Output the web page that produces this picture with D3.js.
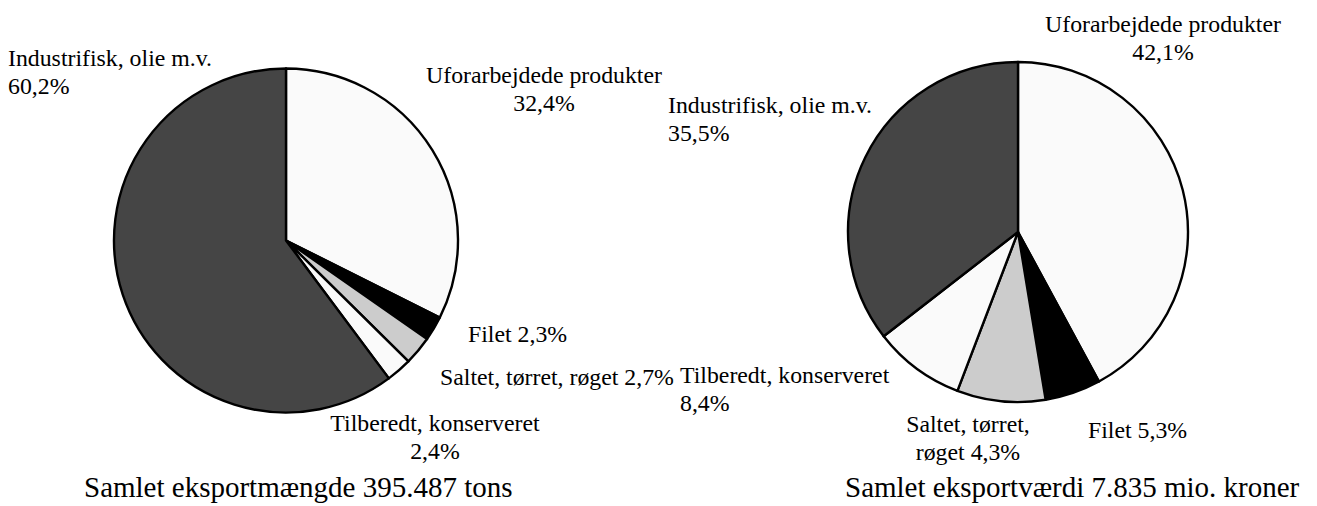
<!DOCTYPE html>
<html>
<head>
<meta charset="utf-8">
<script src="https://cdn.jsdelivr.net/npm/d3@7"></script>
<style>
  body { margin: 0; background: #fff; }
</style>
</head>
<body>
<div id="chart"></div>
<script>
// categories, clockwise from 12 o'clock
var categories = ["Uforarbejdede produkter", "Filet", "Saltet, tørret, røget", "Tilberedt, konserveret", "Industrifisk, olie m.v."]
var colors = ["#fafafa", "#000000", "#cccccc", "#fafafa", "#454545"]

// export quantity (tons share, %)
var volumeValues = [32.4, 2.3, 2.7, 2.4, 60.2]
// export value (share, %), slice sizes as drawn
var valueValues = [42.1, 5.3, 8.4, 8.7, 35.5]

var volumeLabels = [
  ["Uforarbejdede produkter", "32,4%"],
  ["Filet 2,3%"],
  ["Saltet, tørret, røget 2,7%"],
  ["Tilberedt, konserveret", "2,4%"],
  ["Industrifisk, olie m.v.", "60,2%"]
]
var valueLabels = [
  ["Uforarbejdede produkter", "42,1%"],
  ["Filet 5,3%"],
  ["Saltet, tørret,", "røget 4,3%"],
  ["Tilberedt, konserveret", "8,4%"],
  ["Industrifisk, olie m.v.", "35,5%"]
]
var titles = ["Samlet eksportmængde 395.487 tons", "Samlet eksportværdi 7.835 mio. kroner"]

const width = 1317, height = 506
const font = "Liberation Serif"

const svg = d3.select("#chart").append("svg")
  .attr("width", width)
  .attr("height", height)

// label placement (x, first baseline, anchor) per slice
var volumeLabelPos = [
  {x: 544, y: 83, anchor: "middle"},
  {x: 468, y: 342, anchor: "start"},
  {x: 440, y: 385, anchor: "start"},
  {x: 435, y: 431, anchor: "middle"},
  {x: 8, y: 66, anchor: "start"}
]
var valueLabelPos = [
  {x: 1163, y: 32, anchor: "middle"},
  {x: 1088, y: 438, anchor: "start"},
  {x: 968, y: 432, anchor: "middle"},
  {x: 680, y: 383, anchor: "start"},
  {x: 668, y: 113, anchor: "start"}
]

var pies = [
  {cx: 286, cy: 240.5, r: 172, values: volumeValues, labels: volumeLabels, pos: volumeLabelPos, title: titles[0], tx: 84},
  {cx: 1018, cy: 232, r: 170, values: valueValues, labels: valueLabels, pos: valueLabelPos, title: titles[1], tx: 845}
]

const pie = d3.pie().sort(null).value(d => d).startAngle(0).endAngle(2 * Math.PI)

pies.forEach(function (p) {
  var arc = d3.arc().innerRadius(0).outerRadius(p.r)
  var g = svg.append("g").attr("transform", `translate(${p.cx},${p.cy})`)

  g.selectAll("path")
    .data(pie(p.values))
    .join("path")
    .attr("d", arc)
    .attr("fill", (d, i) => colors[i])
    .attr("stroke", "#000")
    .attr("stroke-width", 2.4)
    .attr("stroke-linejoin", "round")

  var lab = svg.append("g")
    .selectAll("text")
    .data(p.labels)
    .join("text")
    .attr("font-size", 23.8)
    .attr("font-family", font)
    .attr("fill", "#000")
    .attr("text-anchor", (d, i) => p.pos[i].anchor)
    .attr("x", (d, i) => p.pos[i].x)
    .attr("y", (d, i) => p.pos[i].y)

  lab.each(function (lines, i) {
    d3.select(this).selectAll("tspan")
      .data(lines)
      .join("tspan")
      .attr("x", p.pos[i].x)
      .attr("dy", (d, j) => j == 0 ? 0 : 27.5)
      .text(d => d)
  })

  svg.append("text")
    .attr("x", p.tx)
    .attr("y", 497)
    .attr("font-size", 29)
    .attr("font-family", font)
    .attr("fill", "#000")
    .text(p.title)
})
</script>
</body>
</html>
